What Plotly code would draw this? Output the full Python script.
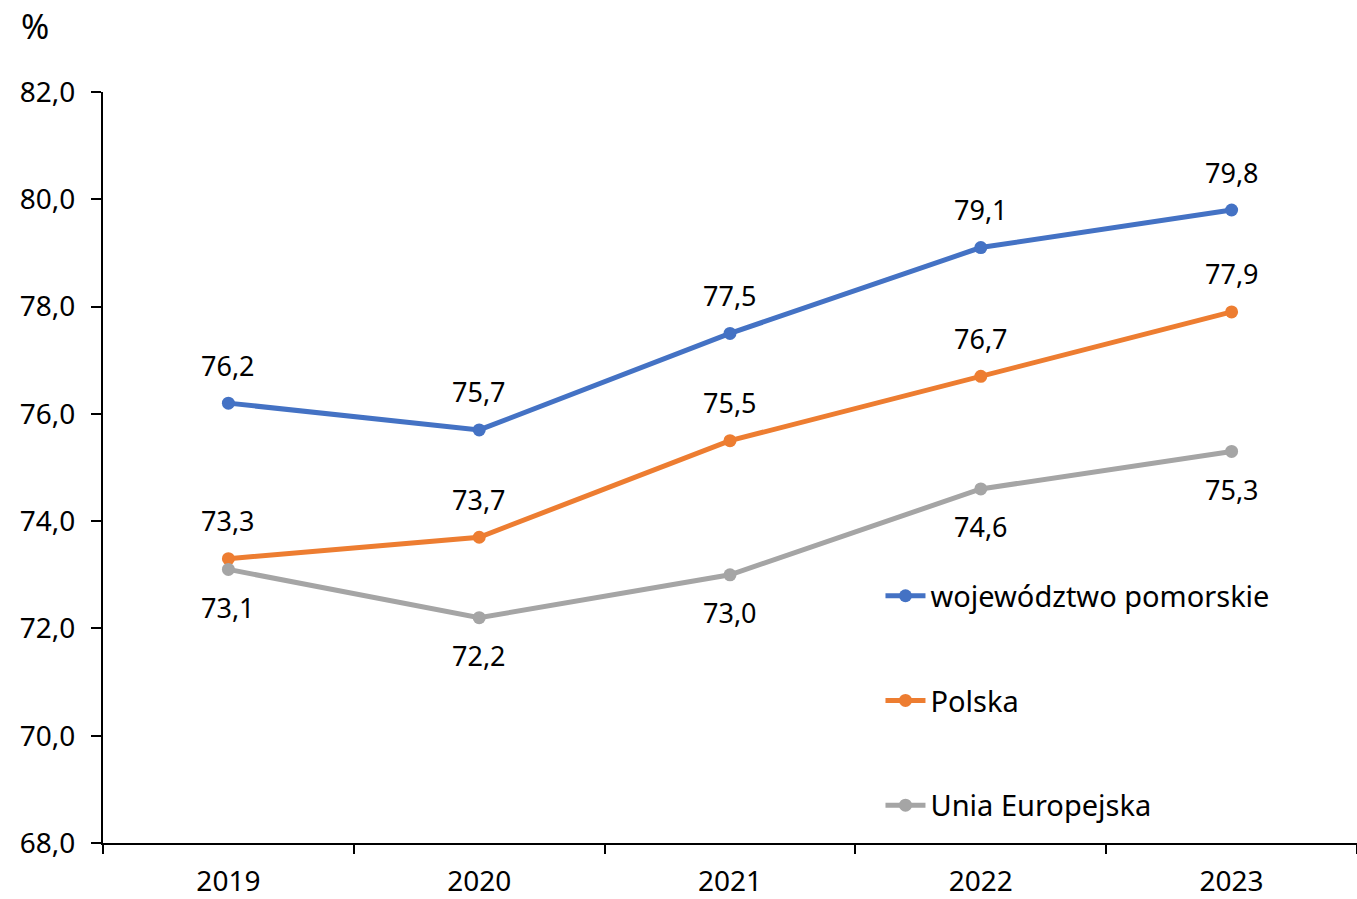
import plotly.graph_objects as go

years = ["2019", "2020", "2021", "2022", "2023"]
pomorskie = [76.2, 75.7, 77.5, 79.1, 79.8]
polska = [73.3, 73.7, 75.5, 76.7, 77.9]
ue = [73.1, 72.2, 73.0, 74.6, 75.3]

series = [
    ("województwo pomorskie", pomorskie, "#4472C4", 38),
    ("Polska", polska, "#ED7D31", 38),
    ("Unia Europejska", ue, "#A5A5A5", -38),
]

FONT = "Noto Sans"

fig = go.Figure()
annotations = []
for i, (name, values, color, shift) in enumerate(series):
    fig.add_trace(go.Scatter(
        x=years, y=values, name=name, mode="lines+markers",
        line=dict(color=color, width=5),
        marker=dict(color=color, size=13),
        legendgroup=str(i),
    ))
    # category axis: place labels by category index
    for j, v in enumerate(values):
        annotations.append(dict(
            x=j, y=v, text=f"{v:.1f}".replace(".", ","), showarrow=False,
            yshift=shift, font=dict(family=FONT, size=27, color="#000000"),
        ))

annotations.append(dict(
    xref="paper", yref="paper", x=-0.054, y=1.055, xanchor="center", yanchor="bottom",
    text="%", showarrow=False, font=dict(family=FONT, size=34, color="#000000"),
))

fig.update_layout(
    width=1357, height=899,
    margin=dict(l=103, r=0, t=92, b=53),
    paper_bgcolor="white", plot_bgcolor="white",
    separators=", ",
    font=dict(family=FONT, size=28, color="#000000"),
    annotations=annotations,
    showlegend=True,
    legend=dict(
        x=0.62, y=0.363, xanchor="left", yanchor="top",
        font=dict(family=FONT, size=29, color="#000000"),
        tracegroupgap=64, itemwidth=40, bgcolor="rgba(0,0,0,0)",
    ),
    xaxis=dict(
        type="category", range=[-0.5, 4.5], tickson="boundaries",
        showline=True, linecolor="#000000", linewidth=2,
        ticks="outside", ticklen=9, tickcolor="#000000", tickwidth=1.5,
        ticklabelstandoff=12,
        showgrid=False, zeroline=False,
        tickfont=dict(family=FONT, size=28),
    ),
    yaxis=dict(
        range=[68, 82], dtick=2, tickformat=".1f",
        showline=True, linecolor="#000000", linewidth=2,
        ticks="outside", ticklen=10, tickcolor="#000000", tickwidth=1.5,
        ticklabelstandoff=10,
        showgrid=False, zeroline=False,
        tickfont=dict(family=FONT, size=28),
    ),
)

fig.write_html(
    "out.html",
    config={"displayModeBar": False},
    post_script="document.body.style.margin='0';",
)
